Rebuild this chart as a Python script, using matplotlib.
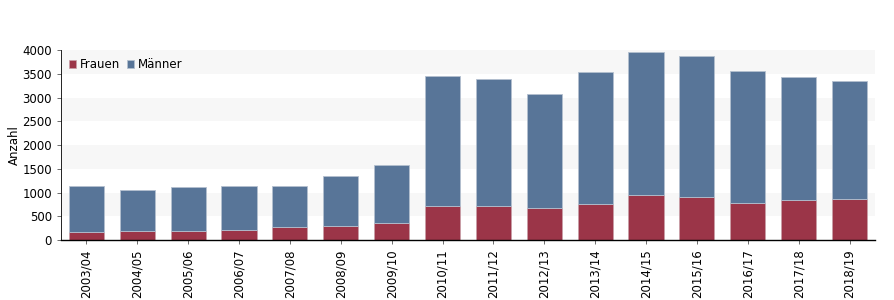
import matplotlib.pyplot as plt
import numpy as np

semester = ["2003/04", "2004/05", "2005/06", "2006/07", "2007/08", "2008/09",
            "2009/10", "2010/11", "2011/12", "2012/13", "2013/14", "2014/15",
            "2015/16", "2016/17", "2017/18", "2018/19"]
frauen = [168, 189, 190, 218, 274, 302, 358, 723, 720, 681, 765, 954, 912, 786, 849, 863]
gesamt = [1137, 1053, 1123, 1144, 1133, 1347, 1572, 3452, 3382, 3066, 3529, 3950, 3880, 3550, 3431, 3340]
maenner = [g - f for g, f in zip(gesamt, frauen)]

rot = "#9b3548"
blau = "#587598"

fig = plt.figure(figsize=(8.94, 3.0), dpi=100)
ax = fig.add_axes([0.0682, 0.2, 0.9105, 0.6333])

x = np.arange(len(semester))
# graue Streifen im Hintergrund
for lo in range(500, 4000, 1000):
    ax.axhspan(lo, lo + 500, color="#f7f7f7", zorder=0, lw=0)

ax.bar(x, frauen, width=0.69, color=rot, edgecolor="#c9a0a8", linewidth=0.5, label="Frauen", zorder=2)
ax.bar(x, maenner, width=0.69, bottom=frauen, color=blau, edgecolor="#b4c0cf", linewidth=0.6, label="Männer", zorder=2)

ax.set_xlim(-0.5, len(semester) - 0.5)
ax.set_ylim(0, 4000)
ax.set_yticks(range(0, 4001, 500))
ax.set_xticks(x)
ax.set_xticklabels(semester, rotation=90)
ax.tick_params(axis="both", labelsize=8.5, length=3, width=0.6, color="#555555")
ax.set_ylabel("Anzahl", fontsize=8.5, labelpad=1)

for s in ["top", "right"]:
    ax.spines[s].set_visible(False)
ax.spines["left"].set_linewidth(0.6)
ax.spines["bottom"].set_linewidth(1.0)

ax.legend(loc="upper left", frameon=False, ncol=2, fontsize=8.5, handlelength=0.6,
          handleheight=0.6, handletextpad=0.3, columnspacing=0.6, borderaxespad=0.3)

fig.savefig("out.png", dpi=100)
